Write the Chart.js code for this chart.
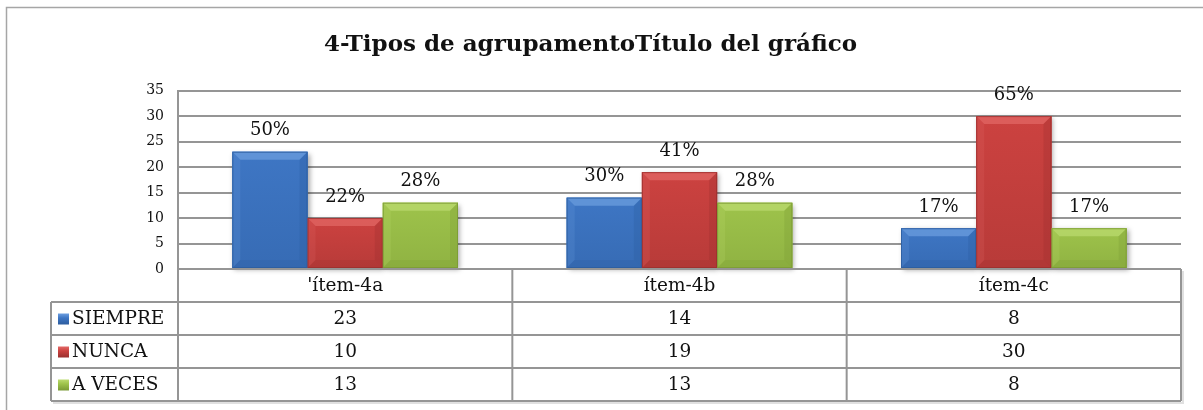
<!DOCTYPE html>
<html><head><meta charset="utf-8">
<script src="https://cdn.jsdelivr.net/npm/chart.js@4.4.1/dist/chart.umd.min.js"></script>
<style>html,body{margin:0;padding:0;background:#fff}#wrap{width:1203px;height:410px;position:relative}</style>
</head><body><div id="wrap"><canvas id="c" width="1203" height="410"></canvas></div>
<script>
// ---- data ----
const categories = ["'ítem-4a", "ítem-4b", "ítem-4c"];
const seriesNames = ["SIEMPRE", "NUNCA", "A VECES"];
const siempre = [23, 14, 8];
const nunca = [10, 19, 30];
const aVeces = [13, 13, 8];
const yTicks = [0, 5, 10, 15, 20, 25, 30, 35];
const titleText = "4-Tipos de agrupamentoTítulo del gráfico";

// ---- styles ----
const FONT = "'DejaVu Serif', 'Liberation Serif', serif";
const GRID = '#959595';
const palette = [
  {base:'#3e76c4', light:'#6d9fe0', dark:'#2c5c9e'},
  {base:'#cc4240', light:'#e26967', dark:'#9a302e'},
  {base:'#9ec34b', light:'#bcdb70', dark:'#7a9a35'}
];
const seriesValues = [siempre, nunca, aVeces];

const totals = categories.map((_, i) => seriesValues.reduce((s, arr) => s + arr[i], 0));

const frame = {
  id: 'frame',
  beforeDraw(chart) {
    const ctx = chart.ctx;
    ctx.save();
    ctx.strokeStyle = '#a6a6a6';
    ctx.lineWidth = 1.5;
    ctx.beginPath();
    ctx.moveTo(6.5, chart.height);
    ctx.lineTo(6.5, 7.5);
    ctx.lineTo(chart.width, 7.5);
    ctx.stroke();
    ctx.restore();
  }
};

const bevel = {
  id: 'bevel',
  beforeDatasetsDraw(chart) {
    const ctx = chart.ctx;
    ctx.save();
    chart.data.datasets.forEach((ds, di) => {
      chart.getDatasetMeta(di).data.forEach(el => {
        const {x, y, base, width} = el.getProps(['x','y','base','width'], true);
        ctx.shadowColor = 'rgba(0,0,0,0.35)';
        ctx.shadowBlur = 5;
        ctx.shadowOffsetX = 2;
        ctx.shadowOffsetY = 2;
        ctx.fillStyle = palette[di].base;
        ctx.fillRect(x - width/2, y, width, base - y);
      });
    });
    ctx.restore();
  },
  afterDatasetsDraw(chart) {
    const ctx = chart.ctx;
    ctx.save();
    chart.data.datasets.forEach((ds, di) => {
      const p = palette[di];
      chart.getDatasetMeta(di).data.forEach((el, i) => {
        const {x, y, base, width} = el.getProps(['x','y','base','width'], true);
        const l = x - width/2, r = x + width/2, t = y, b = base;
        const bv = Math.min(8, (b - t) / 2.5);
        // body gradient
        const g = ctx.createLinearGradient(0, t, 0, b);
        g.addColorStop(0, p.base);
        g.addColorStop(1, p.dark);
        ctx.globalAlpha = 0.4;
        ctx.fillStyle = g;
        ctx.fillRect(l, t, width, b - t);
        // top bevel
        ctx.fillStyle = p.light;
        ctx.globalAlpha = 0.7;
        ctx.beginPath();
        ctx.moveTo(l, t); ctx.lineTo(r, t); ctx.lineTo(r - bv, t + bv); ctx.lineTo(l + bv, t + bv); ctx.closePath();
        ctx.fill();
        // left bevel
        ctx.globalAlpha = 0.2;
        ctx.beginPath();
        ctx.moveTo(l, t); ctx.lineTo(l + bv, t + bv); ctx.lineTo(l + bv, b - bv); ctx.lineTo(l, b); ctx.closePath();
        ctx.fill();
        // right bevel
        ctx.fillStyle = p.dark;
        ctx.globalAlpha = 0.3;
        ctx.beginPath();
        ctx.moveTo(r, t); ctx.lineTo(r, b); ctx.lineTo(r - bv, b - bv); ctx.lineTo(r - bv, t + bv); ctx.closePath();
        ctx.fill();
        // bottom bevel
        ctx.globalAlpha = 0.25;
        ctx.beginPath();
        ctx.moveTo(l, b); ctx.lineTo(r, b); ctx.lineTo(r - bv, b - bv); ctx.lineTo(l + bv, b - bv); ctx.closePath();
        ctx.fill();
        ctx.globalAlpha = 0.8;
        ctx.strokeStyle = p.dark;
        ctx.lineWidth = 1;
        ctx.strokeRect(l + 0.5, t + 0.5, width - 1, b - t - 1);
        ctx.globalAlpha = 1;
        // percent label
        const v = seriesValues[di][i];
        const pct = Math.round(v / totals[i] * 100) + '%';
        ctx.fillStyle = '#111';
        ctx.font = '18px ' + FONT;
        ctx.textAlign = 'center';
        ctx.textBaseline = 'middle';
        ctx.fillText(pct, x, t - 21);
      });
    });
    ctx.restore();
  }
};

const dataTable = {
  id: 'dataTable',
  afterDraw(chart) {
    const ctx = chart.ctx;
    const xs = chart.scales.x;
    const ca = chart.chartArea;
    const rowH = 33;
    const legendLeft = 51;
    const step = xs.getPixelForValue(1) - xs.getPixelForValue(0);
    const bounds = categories.map((_, i) => xs.getPixelForValue(i) - step/2);
    bounds.push(xs.getPixelForValue(categories.length - 1) + step/2);
    const top = ca.bottom;
    const bottom = top + rowH * (seriesNames.length + 1);
    ctx.save();
    // shadow
    ctx.strokeStyle = 'rgba(0,0,0,0.12)';
    ctx.lineWidth = 2;
    ctx.beginPath();
    ctx.moveTo(legendLeft + 2, bottom + 2); ctx.lineTo(ca.right + 2, bottom + 2); ctx.lineTo(ca.right + 2, top + 2);
    ctx.stroke();
    ctx.strokeStyle = GRID;
    ctx.lineWidth = 2;
    ctx.beginPath();
    for (let k = 0; k <= seriesNames.length + 1; k++) {
      const yy = top + rowH * k;
      ctx.moveTo(k === 0 ? ca.left : legendLeft, yy);
      ctx.lineTo(ca.right, yy);
    }
    ctx.moveTo(legendLeft, top + rowH); ctx.lineTo(legendLeft, bottom);
    bounds.forEach(bx => { ctx.moveTo(bx, top); ctx.lineTo(bx, bottom); });
    ctx.stroke();
    // text
    ctx.fillStyle = '#111';
    ctx.font = '18.5px ' + FONT;
    ctx.textBaseline = 'middle';
    ctx.textAlign = 'center';
    categories.forEach((c, i) => ctx.fillText(c, xs.getPixelForValue(i), top + rowH/2 + 1));
    seriesNames.forEach((s, r) => {
      const cy = top + rowH * (r + 1) + rowH/2 + 1;
      // legend marker
      const p = palette[r];
      const mx = legendLeft + 7, my = cy - 6, ms = 11;
      const g = ctx.createLinearGradient(0, my, 0, my + ms);
      g.addColorStop(0, p.light); g.addColorStop(0.4, p.base); g.addColorStop(1, p.dark);
      ctx.fillStyle = g;
      ctx.fillRect(mx, my, ms, ms);
      ctx.fillStyle = '#111';
      ctx.textAlign = 'left';
      ctx.fillText(s, legendLeft + 21, cy);
      ctx.textAlign = 'center';
      seriesValues[r].forEach((v, i) => ctx.fillText(String(v), xs.getPixelForValue(i), cy));
    });
    ctx.restore();
  }
};

new Chart(document.getElementById('c'), {
  type: 'bar',
  data: {
    labels: categories,
    datasets: seriesNames.map((n, i) => ({
      label: n,
      data: seriesValues[i],
      backgroundColor: palette[i].base,
      borderWidth: 0
    }))
  },
  options: {
    responsive: false,
    animation: false,
    events: [],
    layout: {padding: {left: 0, right: 22, top: 0, bottom: 133}},
    datasets: {bar: {categoryPercentage: 0.675, barPercentage: 1}},
    plugins: {
      legend: {display: false},
      tooltip: {enabled: false},
      title: {
        display: true,
        text: titleText,
        color: '#111',
        font: {family: FONT, size: 23, weight: 'bold', lineHeight: 1.2},
        padding: {top: 31, bottom: 32}
      }
    },
    scales: {
      x: {
        grid: {display: false},
        border: {display: false},
        ticks: {display: false}
      },
      y: {
        min: 0, max: 35,
        afterFit(s) { s.width = 178; },
        afterBuildTicks(s) { s.ticks = yTicks.map(v => ({value: v})); },
        grid: {color: GRID, lineWidth: 2, drawTicks: false},
        border: {display: true, color: GRID, width: 2},
        ticks: {color: '#111', padding: 14, font: {family: FONT, size: 14}}
      }
    }
  },
  plugins: [frame, bevel, dataTable]
});
</script>
</body></html>
